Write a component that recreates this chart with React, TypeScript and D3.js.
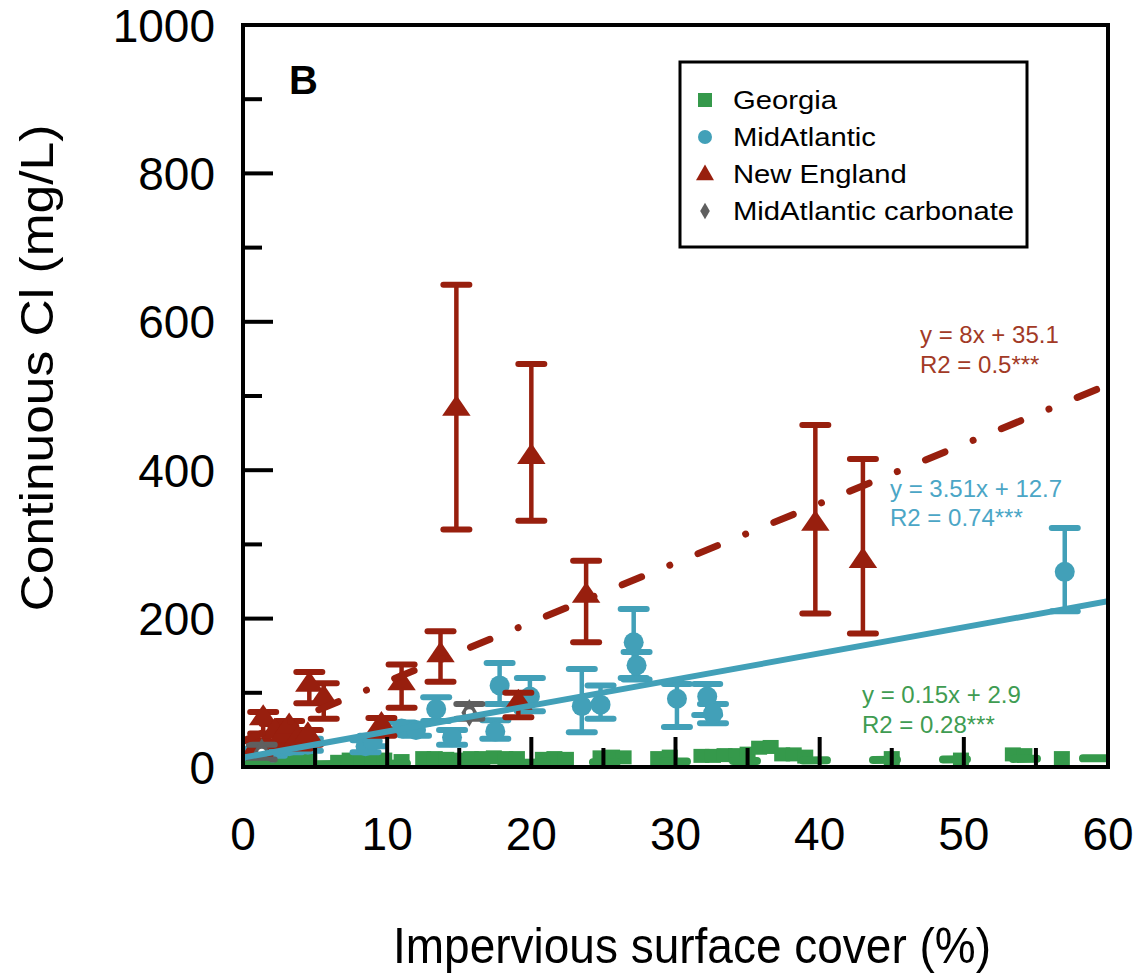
import React from "react";
import * as d3 from "d3";

const xTicksLabeled = [0, 10, 20, 30, 40, 50, 60];
const yTicksLabeled = [0, 200, 400, 600, 800, 1000];

// Georgia: [x, y]
const georgia: [number, number][] = [
  [0.6, 6], [1.4, 8], [2.2, 10], [3.0, 7], [3.8, 8], [4.6, 9], [6.6, 7], [7.4, 10], [8.2, 12],
  [9.0, 11], [9.8, 10], [11.0, 8], [12.5, 12], [13.3, 12], [14.1, 11], [15.0, 10], [15.8, 12],
  [16.6, 12], [17.4, 13], [18.2, 12], [19.0, 12], [20.8, 11], [21.6, 12], [22.4, 11],
  [24.8, 13], [25.6, 14], [26.4, 13], [28.8, 12], [29.6, 14], [31.8, 15], [32.6, 15],
  [33.4, 16], [34.2, 16], [35.0, 18], [35.8, 26], [36.6, 27], [37.4, 17], [38.2, 17],
  [39.0, 14], [45.0, 12], [49.8, 10], [53.4, 17], [54.2, 16], [56.8, 12],
];

// MidAtlantic: [x, y, lo, hi]
const midAtlantic: [number, number, number, number][] = [
  [0.5, 12, 5, 20], [1.2, 18, 10, 25], [2.0, 22, 15, 30], [3.2, 28, 20, 35], [4.5, 30, 22, 38],
  [8.5, 28, 20, 36], [9.0, 35, 28, 42], [11.0, 52, 45, 60], [12.0, 50, 42, 58],
  [13.4, 78, 62, 94], [14.5, 40, 30, 50], [17.5, 48, 38, 63], [17.8, 110, 85, 140],
  [19.9, 95, 75, 120], [23.5, 82, 47, 132], [24.8, 84, 65, 110], [27.1, 168, 120, 213],
  [27.3, 137, 118, 155], [30.1, 92, 54, 112], [32.2, 95, 70, 112], [32.6, 72, 59, 85],
  [57.0, 263, 210, 322],
];

// New England: [x, y, lo, hi]
const newEngland: [number, number, number, number][] = [
  [1.0, 25, 15, 35], [1.4, 63, 45, 74], [2.2, 45, 30, 58], [2.8, 40, 28, 55], [3.2, 52, 38, 62],
  [3.8, 35, 25, 48], [4.5, 40, 30, 50], [4.6, 108, 86, 128], [5.6, 90, 65, 113],
  [9.6, 54, 42, 66], [11.0, 110, 80, 138], [13.7, 148, 115, 183], [14.8, 480, 320, 650],
  [19.1, 84, 67, 100], [20.0, 415, 332, 543], [23.8, 228, 168, 278], [39.7, 325, 207, 461],
  [43.0, 275, 180, 415],
];

// MidAtlantic carbonate: [x, y, lo, hi]
const carbonate: [number, number, number, number][] = [
  [1.3, 20, 10, 30], [15.7, 73, 65, 85],
];

const fits = [
  { name: "Georgia", slope: 0.15, intercept: 2.9, eq: "y = 0.15x + 2.9", r2: "R2 = 0.28***" },
  { name: "MidAtlantic", slope: 3.51, intercept: 12.7, eq: "y = 3.51x + 12.7", r2: "R2 = 0.74***" },
  { name: "New England", slope: 8, intercept: 35.1, eq: "y = 8x + 35.1", r2: "R2 = 0.5***" },
];

const legendItems = ["Georgia", "MidAtlantic", "New England", "MidAtlantic carbonate"];

const C = {
  green: "#35994b",
  blue: "#42a0b8",
  red: "#981f0e",
  gray: "#5f5f5f",
  redText: "#a23a26",
  blueText: "#4ba6c6",
  greenText: "#3f9c52",
};

const FONT = "'Liberation Sans', Arial, sans-serif";

export default function App() {
  const L = 243, R = 1108, T = 25, B = 767;
  const x = d3.scaleLinear().domain([0, 60]).range([L, R]);
  const y = d3.scaleLinear().domain([0, 1000]).range([B, T]);

  const fitPath = (f: { slope: number; intercept: number }) =>
    d3.line<number>().x((d) => x(d)).y((d) => y(f.slope * d + f.intercept))([0, 60]) || "";

  const errBar = (d: [number, number, number, number], color: string, key: string) => (
    <g key={key} stroke={color} strokeWidth={4.5}>
      <line x1={x(d[0])} x2={x(d[0])} y1={y(d[2])} y2={y(d[3])} />
      <line x1={x(d[0]) - 13} x2={x(d[0]) + 13} y1={y(d[2])} y2={y(d[2])} strokeWidth={6} strokeLinecap="round" />
      <line x1={x(d[0]) - 13} x2={x(d[0]) + 13} y1={y(d[3])} y2={y(d[3])} strokeWidth={6} strokeLinecap="round" />
    </g>
  );

  const tri = d3.symbol().type(d3.symbolTriangle).size(280)() || "";
  const dia = d3.symbol().type(d3.symbolDiamond).size(220)() || "";

  const yMinor = d3.range(0, 1001, 100);
  const xMinor = d3.range(0, 61, 5);

  return (
    <svg width={1139} height={975} style={{ position: "absolute", left: 0, top: 0, background: "#fff" }} fontFamily={FONT}>
      <defs>
        <clipPath id="plotClip">
          <rect x={L} y={T} width={R - L} height={B - T} />
        </clipPath>
      </defs>
      <rect x={0} y={0} width={1139} height={975} fill="#fff" />

      <g clipPath="url(#plotClip)">
        {/* Georgia */}
        {georgia.map((d, i) => (
          <rect key={"g" + i} x={x(d[0]) - 8} y={y(d[1]) - 7} width={16} height={14} fill={C.green} />
        ))}
        {/* MidAtlantic */}
        {midAtlantic.map((d, i) => errBar(d, C.blue, "mae" + i))}
        {midAtlantic.map((d, i) => (
          <circle key={"ma" + i} cx={x(d[0])} cy={y(d[1])} r={10} fill={C.blue} />
        ))}
        {/* New England */}
        {newEngland.map((d, i) => errBar(d, C.red, "nee" + i))}
        {newEngland.map((d, i) => (
          <path key={"ne" + i} d={tri} transform={`translate(${x(d[0])},${y(d[1]) - 2}) scale(1.12,0.95)`} fill={C.red} />
        ))}
        {/* Carbonate */}
        {carbonate.map((d, i) => errBar(d, C.gray, "ce" + i))}
        {carbonate.map((d, i) => (
          <g key={"c" + i} transform={`translate(${x(d[0])},${y(d[1])})`}>
            <path d={dia} fill={C.gray} />
            <circle r={3.5} fill="#fff" />
          </g>
        ))}

        {/* Trend lines */}
        <path d={fitPath(fits[0])} stroke={C.green} strokeWidth={8} fill="none" strokeDasharray="24 46" strokeLinecap="round" />
        <path d={fitPath(fits[1])} stroke={C.blue} strokeWidth={6} fill="none" />
        <path d={fitPath(fits[2])} stroke={C.red} strokeWidth={7} fill="none" strokeDasharray="21 30.5 0.01 30.5" strokeLinecap="round" />
      </g>

      {/* ticks */}
      {yMinor.map((v) => (
        <line key={"yt" + v} x1={L} x2={L + (v % 200 === 0 ? 30 : 19)} y1={y(v)} y2={y(v)} stroke="#000" strokeWidth={4} />
      ))}
      {xMinor.map((v) => (
        <line key={"xt" + v} x1={x(v)} x2={x(v)} y1={B} y2={B - (v % 10 === 0 ? 30 : 19)} stroke="#000" strokeWidth={4} />
      ))}

      {/* frame */}
      <rect x={L} y={T} width={R - L} height={B - T} fill="none" stroke="#000" strokeWidth={4} />

      {/* tick labels */}
      {yTicksLabeled.map((v) => (
        <text key={"yl" + v} x={L - 28} y={y(v)} dy="0.36em" textAnchor="end" fontSize={46} fill="#000">{v}</text>
      ))}
      {xTicksLabeled.map((v) => (
        <text key={"xl" + v} x={x(v)} y={850} textAnchor="middle" fontSize={46} fill="#000">{v}</text>
      ))}

      {/* axis titles */}
      <text transform="translate(692,963) scale(1,1.1)" textAnchor="middle" fontSize={46} fill="#000">Impervious surface cover (%)</text>
      <text transform="translate(53,368) rotate(-90) scale(1.12,1)" textAnchor="middle" fontSize={46} fill="#000">Continuous Cl (mg/L)</text>

      {/* panel label */}
      <text x={289} y={94} fontSize={40} fontWeight="bold" fill="#000">B</text>

      {/* equations */}
      <text x={920} y={343} fontSize={24} fill={C.redText}>{fits[2].eq}</text>
      <text x={920} y={373} fontSize={24} fill={C.redText}>{fits[2].r2}</text>
      <text x={890} y={497} fontSize={24} fill={C.blueText}>{fits[1].eq}</text>
      <text x={890} y={526} fontSize={24} fill={C.blueText}>{fits[1].r2}</text>
      <text x={862} y={703} fontSize={24} fill={C.greenText}>{fits[0].eq}</text>
      <text x={862} y={733} fontSize={24} fill={C.greenText}>{fits[0].r2}</text>

      {/* legend */}
      <rect x={680} y={62} width={347} height={185} fill="#fff" stroke="#000" strokeWidth={3} />
      {legendItems.map((name, i) => {
        const cy = 100 + i * 37;
        const mx = 705;
        let marker: React.ReactNode = null;
        if (i === 0) marker = <rect x={mx - 7} y={cy - 7} width={14} height={14} fill={C.green} />;
        if (i === 1) marker = <circle cx={mx} cy={cy} r={7} fill={C.blue} />;
        if (i === 2) marker = <path d={d3.symbol().type(d3.symbolTriangle).size(140)() || ""} transform={`translate(${mx},${cy + 1})`} fill={C.red} />;
        if (i === 3) marker = <path d={d3.symbol().type(d3.symbolDiamond).size(80)() || ""} transform={`translate(${mx},${cy})`} fill={C.gray} />;
        return (
          <g key={name}>
            {marker}
            <text transform={`translate(733,${cy}) scale(1.17,1)`} dy="0.36em" fontSize={25} fill="#000">{name}</text>
          </g>
        );
      })}
    </svg>
  );
}
